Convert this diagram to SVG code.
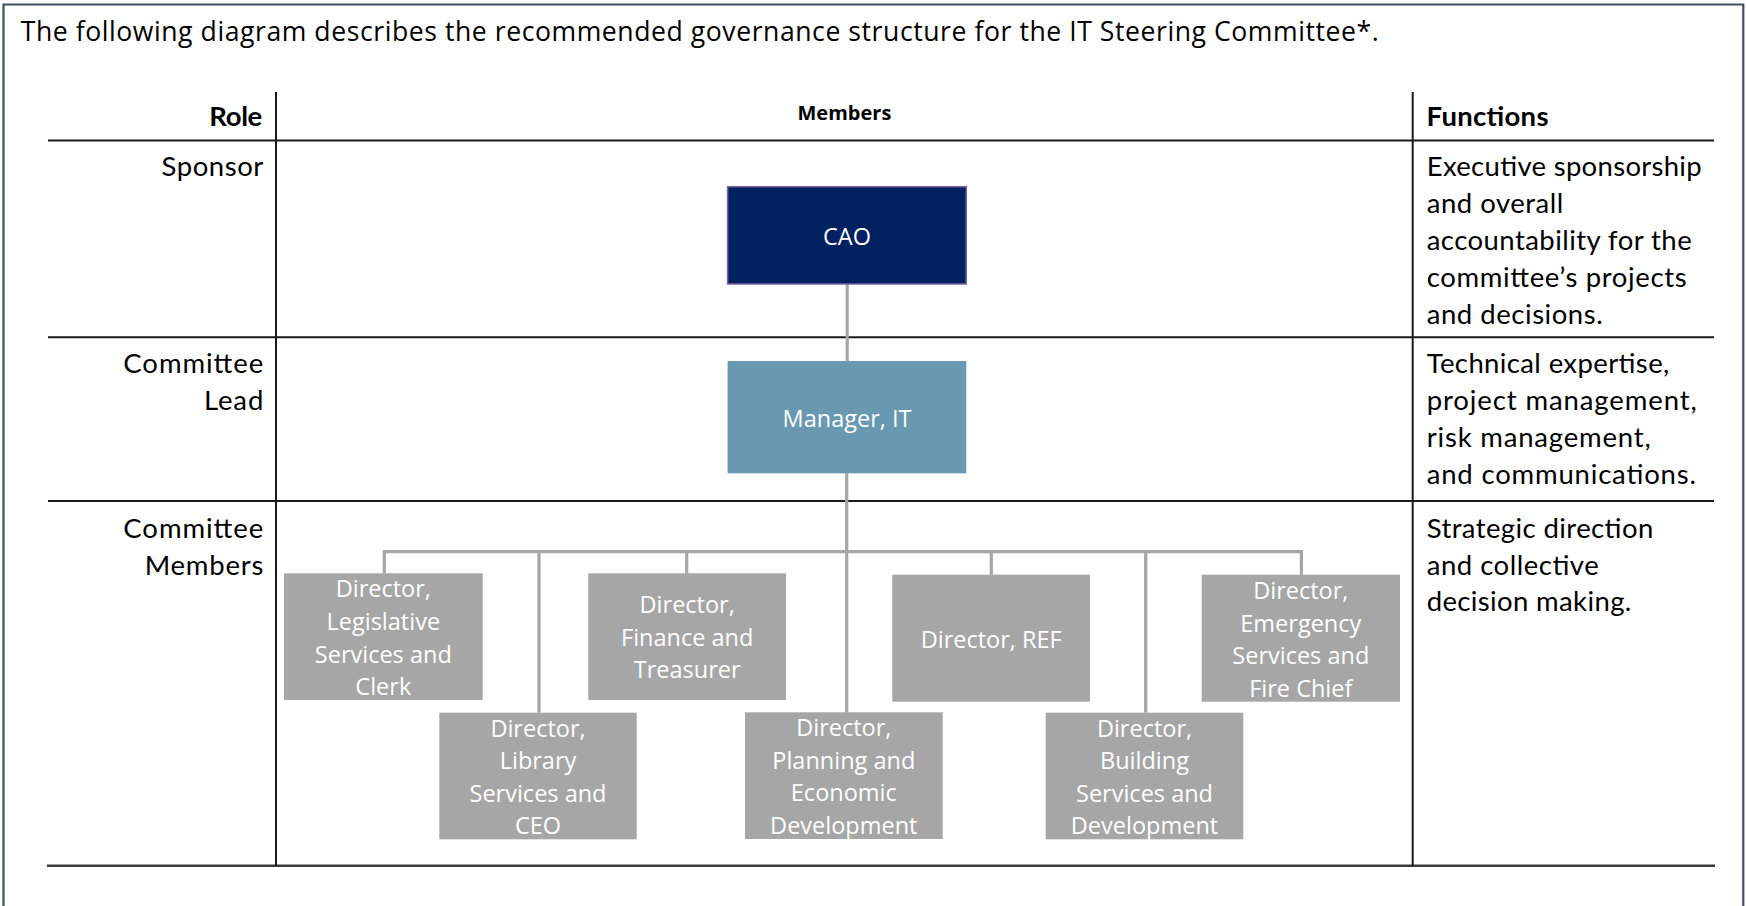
<svg xmlns="http://www.w3.org/2000/svg" width="1746" height="906" viewBox="0 0 1746 906">
  <style>
    .cal { font-family: "Lato", "Carlito", "Liberation Sans", sans-serif; font-size: 27.5px; fill: #000; }
    .calb { font-family: "Lato", "Carlito", "Liberation Sans", sans-serif; font-size: 27.5px; font-weight: bold; fill: #000; }
    .seg { font-family: "Open Sans", "Noto Sans", "Liberation Sans", sans-serif; fill: #000; }
    .box { font-family: "Open Sans", "Noto Sans", "Liberation Sans", sans-serif; font-size: 23.5px; fill: #ffffff; text-anchor: middle; }
    .grid { stroke: #1a1a1a; stroke-width: 2; fill: none; }
    .conn { stroke: #a6a6a6; stroke-width: 3.2; fill: none; }
    .gbox { fill: #a6a6a6; }
  </style>

  <rect x="0" y="0" width="1746" height="906" fill="#ffffff"/>

  <!-- outer frame -->
  <path d="M3.5,910 V4.5 H1743.3 V910" fill="none" stroke="#434d62" stroke-width="2.2"/>

  <!-- title -->
  <text class="seg" x="20.7" y="41" font-size="26.6" textLength="1358" lengthAdjust="spacing">The following diagram describes the recommended governance structure for the IT Steering Committee*.</text>

  <!-- table grid -->
  <g id="table">
    <line class="grid" x1="48" y1="140.5" x2="1714" y2="140.5"/>
    <line class="grid" x1="48" y1="337.3" x2="1714" y2="337.3"/>
    <line class="grid" x1="48" y1="501" x2="1714" y2="501"/>
    <line x1="47" y1="865.7" x2="1715" y2="865.7" stroke="#3a3a3a" stroke-width="2.6"/>
    <line class="grid" x1="276" y1="92" x2="276" y2="866"/>
    <line class="grid" x1="1412.7" y1="92" x2="1412.7" y2="866"/>
  </g>

  <!-- headers -->
  <g id="headers">
    <text class="calb" x="262.3" y="126" text-anchor="end" textLength="53">Role</text>
    <text class="seg" x="844.4" y="120" font-size="20" font-weight="bold" text-anchor="middle" textLength="94">Members</text>
    <text class="calb" x="1426.5" y="126" textLength="122">Functions</text>
  </g>

  <!-- role labels -->
  <g id="roles">
    <text class="cal" x="263.3" y="176" text-anchor="end" textLength="101.8">Sponsor</text>
    <text class="cal" x="263.3" y="373" text-anchor="end" textLength="140">Committee</text>
    <text class="cal" x="263.3" y="409.7" text-anchor="end" textLength="59.3">Lead</text>
    <text class="cal" x="263.3" y="537.8" text-anchor="end" textLength="140">Committee</text>
    <text class="cal" x="263.3" y="574.5" text-anchor="end" textLength="118.6">Members</text>
  </g>

  <!-- functions -->
  <g id="functions">
    <text class="cal" x="1426.7" y="176" textLength="275">Executive sponsorship</text>
    <text class="cal" x="1426.7" y="212.8" textLength="136.6">and overall</text>
    <text class="cal" x="1426.7" y="249.6" textLength="265">accountability for the</text>
    <text class="cal" x="1426.7" y="287" textLength="260">committee’s projects</text>
    <text class="cal" x="1426.7" y="324" textLength="176">and decisions.</text>
    <text class="cal" x="1426.7" y="373" textLength="242.6">Technical expertise,</text>
    <text class="cal" x="1426.7" y="409.7" textLength="270">project management,</text>
    <text class="cal" x="1426.7" y="446.5" textLength="224">risk management,</text>
    <text class="cal" x="1426.7" y="484" textLength="269.3">and communications.</text>
    <text class="cal" x="1426.7" y="537.8" textLength="226.6">Strategic direction</text>
    <text class="cal" x="1426.7" y="574.5" textLength="172">and collective</text>
    <text class="cal" x="1426.7" y="611.3" textLength="204.6">decision making.</text>
  </g>

  <!-- connectors -->
  <g id="connectors">
    <path class="conn" d="M847.2,284 V361"/>
    <path class="conn" d="M846.7,473.3 V712.5"/>
    <path class="conn" d="M384.3,573.5 V551.6 H1301.4 V574.7"/>
    <path class="conn" d="M539,551.6 V712.7"/>
    <path class="conn" d="M686.7,551.6 V573.5"/>
    <path class="conn" d="M991.3,551.6 V574.7"/>
    <path class="conn" d="M1145.7,551.6 V712.7"/>
  </g>

  <!-- nodes -->
  <g id="cao">
    <rect x="727.6" y="186.7" width="238.7" height="97.3" fill="#002060" stroke="#7d62a0" stroke-width="1.5"/>
    <text class="box" x="847" y="245.3">CAO</text>
  </g>
  <g id="manager-it">
    <rect x="727.6" y="361" width="238.7" height="112.3" fill="#6998b1"/>
    <text class="box" x="847" y="427">Manager, IT</text>
  </g>
  <g id="dir-legislative">
    <rect class="gbox" x="284" y="573.3" width="198.7" height="126.7"/>
    <text class="box" x="383.3" y="597.4">Director,</text>
    <text class="box" x="383.3" y="630">Legislative</text>
    <text class="box" x="383.3" y="662.5">Services and</text>
    <text class="box" x="383.3" y="695">Clerk</text>
  </g>
  <g id="dir-finance">
    <rect class="gbox" x="588.3" y="573.3" width="197.7" height="126.7"/>
    <text class="box" x="687.2" y="613.4">Director,</text>
    <text class="box" x="687.2" y="645.9">Finance and</text>
    <text class="box" x="687.2" y="678.4">Treasurer</text>
  </g>
  <g id="dir-ref">
    <rect class="gbox" x="892.3" y="574.7" width="197.7" height="127"/>
    <text class="box" x="991.2" y="648.3">Director, REF</text>
  </g>
  <g id="dir-emergency">
    <rect class="gbox" x="1201.7" y="574.7" width="198.3" height="127"/>
    <text class="box" x="1300.8" y="599">Director,</text>
    <text class="box" x="1300.8" y="631.5">Emergency</text>
    <text class="box" x="1300.8" y="664">Services and</text>
    <text class="box" x="1300.8" y="696.5">Fire Chief</text>
  </g>
  <g id="dir-library">
    <rect class="gbox" x="439.3" y="712.7" width="197.4" height="126.6"/>
    <text class="box" x="538" y="736.7">Director,</text>
    <text class="box" x="538" y="769.2">Library</text>
    <text class="box" x="538" y="801.7">Services and</text>
    <text class="box" x="538" y="834.2">CEO</text>
  </g>
  <g id="dir-planning">
    <rect class="gbox" x="745" y="712.3" width="197.7" height="126.7"/>
    <text class="box" x="843.8" y="736">Director,</text>
    <text class="box" x="843.8" y="768.5">Planning and</text>
    <text class="box" x="843.8" y="801">Economic</text>
    <text class="box" x="843.8" y="833.5">Development</text>
  </g>
  <g id="dir-building">
    <rect class="gbox" x="1045.7" y="712.7" width="197.6" height="126.6"/>
    <text class="box" x="1144.5" y="736.5">Director,</text>
    <text class="box" x="1144.5" y="769">Building</text>
    <text class="box" x="1144.5" y="801.5">Services and</text>
    <text class="box" x="1144.5" y="834">Development</text>
  </g>
</svg>
